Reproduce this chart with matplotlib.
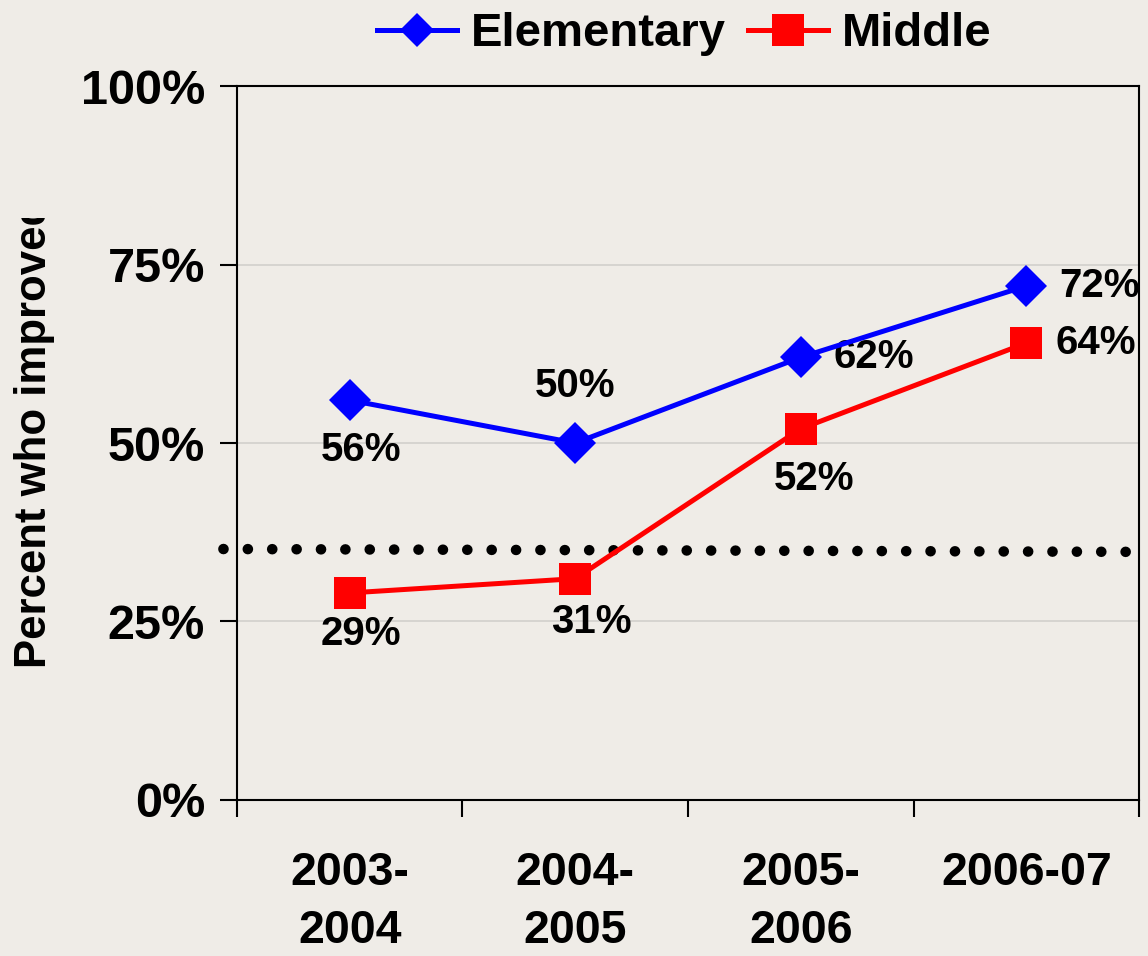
import matplotlib
matplotlib.use("Agg")
import matplotlib.pyplot as plt
from matplotlib.lines import Line2D
from matplotlib.transforms import Bbox, TransformedBbox

# data
years = ["2003-\n2004", "2004-\n2005", "2005-\n2006", "2006-07"]
elementary = [56, 50, 62, 72]
middle = [29, 31, 52, 64]
target_line = [35.15, 34.75]  # dotted reference line, left and right ends

BG = "#EFECE7"
plt.rcParams["font.family"] = ["Liberation Sans", "DejaVu Sans"]
plt.rcParams["font.weight"] = "bold"

fig = plt.figure(figsize=(11.48, 9.56), dpi=100, facecolor=BG)
ax = fig.add_axes([0.2064, 0.1632, 0.7858, 0.7468])
ax.set_facecolor(BG)

x = list(range(len(years)))
ax.plot(x, elementary, color="#0000FF", lw=3.6, marker="D", ms=21, mew=0, zorder=4)
ax.plot(x, middle, color="#FF0000", lw=3.6, marker="s", ms=23, mew=0, zorder=4)

# dotted threshold line, runs a little past the left spine
ax.plot([-0.56, 3.5], target_line, color="black", lw=7.6,
        linestyle=(0, (0.01, 2.3)), dash_capstyle="round", clip_on=False, zorder=3)

# value labels (offsets in pixels)
e_off = [(11, -50, "center"), (0, 57, "center"), (33, 0, "left"), (33, 0, "left")]
m_off = [(11, -41, "center"), (16, -43, "center"), (13, -50, "center"), (29, 0, "left")]
for xi, v, (dx, dy, ha) in zip(x, elementary, e_off):
    ax.annotate(f"{v}%", (xi, v), xytext=(dx, dy), textcoords="offset pixels",
                ha=ha, va="center", fontsize=29, fontweight="bold")
for xi, v, (dx, dy, ha) in zip(x, middle, m_off):
    ax.annotate(f"{v}%", (xi, v), xytext=(dx, dy), textcoords="offset pixels",
                ha=ha, va="center", fontsize=29, fontweight="bold")

ax.set_xlim(-0.5, 3.5)
ax.set_ylim(0, 100)
ax.set_yticks([0, 25, 50, 75, 100])
ax.set_yticklabels([f"{t}%" for t in [0, 25, 50, 75, 100]])
ax.set_xticks(x)
ax.set_xticklabels(years)
ax.set_xticks([-0.5, 0.5, 1.5, 2.5, 3.5], minor=True)
ax.tick_params(axis="y", direction="out", length=12, width=1.5, pad=11, labelsize=35)
ax.tick_params(axis="x", which="major", length=0, pad=37, labelsize=33.5)
ax.tick_params(axis="x", which="minor", direction="out", length=12, width=1.5)
for lab in ax.get_xticklabels():
    lab.set_fontweight("bold")
    lab.set_linespacing(1.4)
for lab in ax.get_yticklabels():
    lab.set_fontweight("bold")

ax.grid(axis="y", color="#D2D0CC", lw=1.2)
ax.set_axisbelow(True)
for s in ax.spines.values():
    s.set_linewidth(1.5)
    s.set_color("black")

# y label, clipped at the top like in the original
ylab = fig.text(35 / 1148, 1 - 668 / 956, "Percent who improved", rotation=90,
                ha="center", va="bottom", fontsize=31.5, fontweight="bold")
clip = TransformedBbox(Bbox([[0, 0], [1, 1 - 218 / 956]]), fig.transFigure)
ylab.set_clip_box(clip)
ylab.set_clip_on(True)

handles = [
    Line2D([], [], color="#0000FF", lw=3.6, marker="D", ms=17, mew=0),
    Line2D([], [], color="#FF0000", lw=3.6, marker="s", ms=23, mew=0),
]
fig.legend(handles, ["Elementary", "Middle"], loc="center", bbox_to_anchor=(0.596, 0.964),
           ncol=2, frameon=False, handlelength=1.7, handletextpad=0.28,
           columnspacing=0.48, prop={"weight": "bold", "size": 34})

fig.savefig("out.png", dpi=100, facecolor=BG)
